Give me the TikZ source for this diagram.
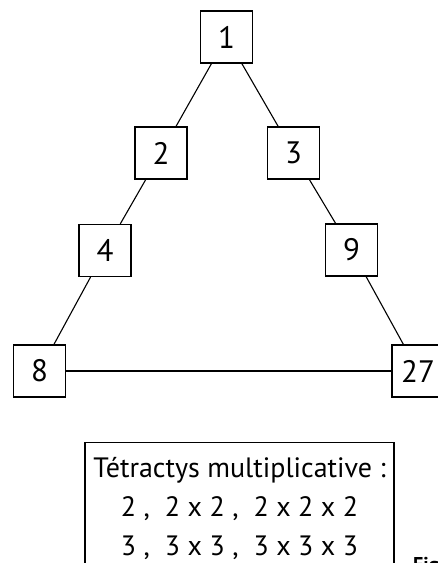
\documentclass[tikz,border=0pt]{standalone}
\usepackage{fontspec}
\setmainfont{PT Sans}
\begin{document}
\begin{tikzpicture}[x=1pt,y=-1pt,
  numbox/.style={draw, line width=1.1pt, minimum size=52pt, inner sep=0pt,
    font=\fontsize{31}{36}\selectfont},
  link/.style={line width=1.1pt},
  infobox/.style={draw, line width=1.1pt, anchor=north, minimum width=309pt,
    inner sep=0pt, align=center, font=\fontsize{28}{39}\selectfont},
  figlabel/.style={anchor=base west, inner sep=0pt,
    font=\fontsize{20}{24}\selectfont\bfseries}]
\useasboundingbox (0,0) rectangle (438,563);
\clip (0,0) rectangle (438,563);
\fill[white] (0,0) rectangle (438,563);

\node[numbox] (n1)  at (226.5,37)  {1};
\node[numbox] (n2)  at (161,153)   {2};
\node[numbox] (n3)  at (293.5,153) {3};
\node[numbox] (n4)  at (105,250.5) {4};
\node[numbox] (n9)  at (351.5,250) {9};
\node[numbox] (n8)  at (39.5,371)  {8};
\node[numbox] (n27) at (418,371)   {27};

\draw[link] (n1) -- (n2);
\draw[link] (n1) -- (n3);
\draw[link] (n2) -- (n4);
\draw[link] (n4) -- (n8);
\draw[link] (n3) -- (n9);
\draw[link] (n9) -- (n27);
\draw[link] (n8) -- (n27);

\node[infobox] (tb) at (239.5,442)
  {\rule{0pt}{35pt}Tétractys multiplicative :\\
   2 , \ 2 x 2 , \ 2 x 2 x 2\\
   3 , \ 3 x 3 , \ 3 x 3 x 3\rule[-30pt]{0pt}{0pt}};

\node[figlabel] (fig) at (413,571) {Fig};
\end{tikzpicture}
\end{document}
